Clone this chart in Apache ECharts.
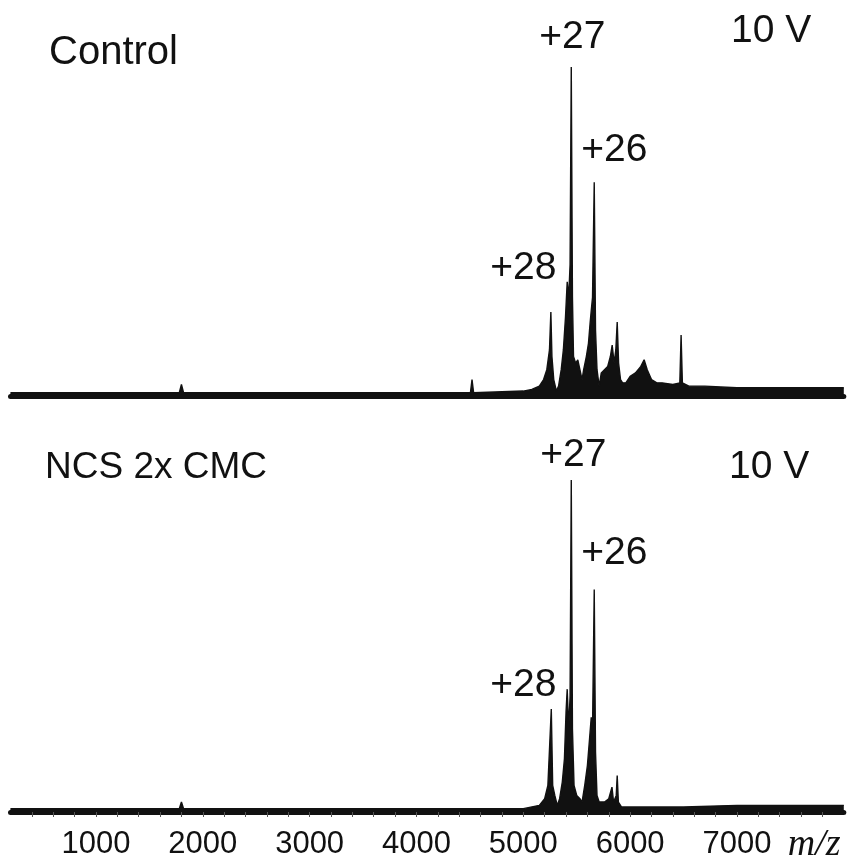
<!DOCTYPE html>
<html>
<head>
<meta charset="utf-8">
<script src="https://cdn.jsdelivr.net/npm/echarts@6/dist/echarts.min.js"></script>
<style>
  html, body { margin: 0; padding: 0; background: #fff; }
  #chart { width: 853px; height: 864px; }
</style>
</head>
<body>
<div id="chart"></div>
<script>
// spectra: [m/z, relative intensity %]
var controlSpectrum = [
  [200, 1], [1000, 1], [1780, 1], [1800, 3.5], [1820, 1], [3000, 1], [4505, 1], [4520, 5], [4535, 1],
  [5000, 1.5], [5080, 2], [5150, 3], [5190, 5], [5220, 8], [5245, 14], [5258, 25.5], [5268, 12],
  [5285, 5], [5310, 1.5], [5330, 3], [5355, 8], [5375, 14], [5395, 24], [5411, 34.7], [5425, 30],
  [5438, 40], [5449, 100], [5460, 30], [5470, 12], [5490, 10], [5510, 11], [5530, 8], [5550, 5],
  [5565, 8], [5590, 12], [5610, 16], [5625, 22], [5636, 26], [5648, 30], [5664, 65], [5676, 20],
  [5690, 8], [5710, 3], [5730, 7], [5760, 8], [5790, 9], [5815, 12], [5832, 15.5], [5850, 10],
  [5866, 14], [5879, 22.5], [5892, 10], [5910, 5], [5930, 4], [5960, 4], [6000, 6], [6050, 7],
  [6100, 9], [6131, 11], [6160, 8], [6200, 5], [6250, 4], [6300, 4], [6400, 3.5], [6465, 4],
  [6477, 18.5], [6489, 4], [6550, 3], [6700, 3], [7000, 2.5], [7500, 2.5], [8000, 2.5]
];
var ncsSpectrum = [
  [200, 1], [1780, 1], [1800, 3], [1820, 1], [5000, 1], [5150, 2], [5200, 4], [5230, 8], [5245, 8],
  [5262, 31], [5275, 8], [5295, 5], [5318, 2], [5340, 4], [5365, 9], [5385, 16], [5400, 30],
  [5411, 37], [5425, 25], [5438, 35], [5449, 100], [5460, 25], [5475, 8], [5500, 5], [5530, 4],
  [5550, 3], [5575, 8], [5600, 14], [5620, 22], [5636, 28.5], [5648, 25], [5664, 67], [5676, 18],
  [5690, 5], [5710, 3], [5760, 3], [5800, 4], [5830, 7.5], [5845, 3], [5870, 5], [5879, 11],
  [5890, 3], [5920, 1.5], [6500, 1.5], [7000, 2], [8000, 2]
];

var peakMz = [5262, 5449, 5664];
var peakNames = ['+28', '+27', '+26'];
var controlPeakInt = [25.5, 100, 65];
var ncsPeakInt = [31, 100, 67];

var tickLabels = [1000, 2000, 3000, 4000, 5000, 6000, 7000];

var font = 'Liberation Sans';
var ink = '#111';

var chart = echarts.init(document.getElementById('chart'));

function peakItems(ints, offsets) {
  return peakMz.map(function (mz, i) {
    return {
      value: [mz, ints[i]],
      name: peakNames[i],
      label: { offset: offsets[i] }
    };
  });
}

function spectrumSeries(data, idx) {
  return {
    type: 'line',
    xAxisIndex: idx,
    yAxisIndex: idx,
    data: data,
    showSymbol: false,
    symbol: 'none',
    lineStyle: { color: ink, width: 1.4 },
    areaStyle: { color: ink, opacity: 1 },
    silent: true,
    z: 3
  };
}

function labelSeries(ints, offsets, idx) {
  return {
    type: 'scatter',
    xAxisIndex: idx,
    yAxisIndex: idx,
    symbolSize: 0,
    itemStyle: { color: ink, opacity: 1 },
    data: peakItems(ints, offsets),
    label: {
      show: true,
      position: 'top',
      distance: 0,
      formatter: '{b}',
      fontFamily: font,
      fontSize: 39,
      color: ink,
      opacity: 1
    },
    silent: true,
    z: 5
  };
}

function titleStyle(size) {
  return { fontFamily: font, fontSize: size, fontWeight: 'normal', color: ink };
}

var option = {
  backgroundColor: '#fff',
  animation: false,
  title: [
    { text: 'Control', left: 49, top: 33, padding: 0, textStyle: titleStyle(40) },
    { text: '10 V', left: 731, top: 12, padding: 0, textStyle: titleStyle(39) },
    { text: 'NCS 2x CMC', left: 45, top: 449, padding: 0, textStyle: titleStyle(37) },
    { text: '10 V', left: 729, top: 448, padding: 0, textStyle: titleStyle(39) }
  ],
  grid: [
    { left: 10.5, right: 9.2, top: 67, height: 329 },
    { left: 10.5, right: 9.2, top: 480, height: 333 }
  ],
  xAxis: [
    {
      type: 'value', gridIndex: 0, min: 200, max: 8000, interval: 200,
      axisLine: { show: true, lineStyle: { color: ink, width: 5 } },
      axisTick: { show: false }, axisLabel: { show: false }, splitLine: { show: false }
    },
    {
      type: 'value', gridIndex: 1, min: 200, max: 8000, interval: 200,
      axisLine: { show: true, lineStyle: { color: ink, width: 5 } },
      axisTick: { show: true, length: 5, lineStyle: { color: '#555', width: 1 } },
      axisLabel: {
        show: true, margin: 17, fontFamily: font, fontSize: 31, color: ink,
        showMinLabel: false, showMaxLabel: false,
        formatter: function (v) { return tickLabels.indexOf(v) >= 0 ? String(v) : ''; }
      },
      splitLine: { show: false },
      name: 'm/z', nameLocation: 'end', nameGap: -56,
      nameTextStyle: {
        fontFamily: 'Liberation Serif', fontStyle: 'italic', fontSize: 38, color: ink,
        verticalAlign: 'top', padding: [14, 0, 0, 0]
      }
    }
  ],
  yAxis: [
    { type: 'value', gridIndex: 0, min: 0, max: 100, show: false },
    { type: 'value', gridIndex: 1, min: 0, max: 100, show: false }
  ],
  series: [
    spectrumSeries(controlSpectrum, 0),
    spectrumSeries(ncsSpectrum, 1),
    labelSeries(controlPeakInt, [[-28, -24], [1, -10], [20, -12]], 0),
    labelSeries(ncsPeakInt, [[-28, -4], [2, -5], [20, -17]], 1)
  ]
};

chart.setOption(option);
window.addEventListener('resize', function () {
  chart.resize();
});
</script>
</body>
</html>
